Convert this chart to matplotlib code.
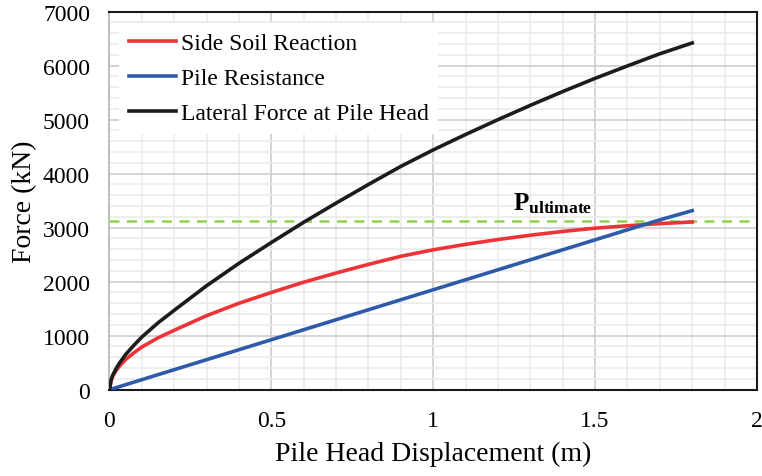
import matplotlib
matplotlib.use("Agg")
import matplotlib.pyplot as plt
from matplotlib.ticker import MultipleLocator

plt.rcParams["font.family"] = ["Liberation Serif", "DejaVu Serif"]
plt.rcParams["mathtext.fontset"] = "custom"
plt.rcParams["mathtext.bf"] = "Liberation Serif:bold"
plt.rcParams["mathtext.rm"] = "Liberation Serif"

# Pile head displacement (m)
displacement = [0, 0.005, 0.01, 0.02, 0.03, 0.05, 0.075, 0.1, 0.15, 0.2, 0.3, 0.4,
                0.5, 0.6, 0.7, 0.8, 0.9, 1.0, 1.1, 1.2, 1.3, 1.4, 1.5, 1.6, 1.7, 1.8]

# Forces (kN)
side_soil = [0, 175, 250, 350, 430, 560, 680, 790, 960, 1100, 1370, 1600,
             1800, 1990, 2160, 2320, 2470, 2590, 2690, 2780, 2860, 2930, 2990, 3035, 3075, 3105]
pile_resistance = [0, 9, 18, 37, 55, 92, 139, 185, 278, 370, 555, 740,
                   925, 1110, 1295, 1480, 1665, 1850, 2035, 2220, 2405, 2590, 2775, 2960, 3145, 3315]
lateral_force = [0, 184, 268, 387, 485, 652, 820, 975, 1238, 1470, 1925, 2340,
                 2725, 3100, 3455, 3800, 4135, 4440, 4725, 5000, 5265, 5520, 5765, 5995, 6220, 6420]

p_ultimate = 3130

x_ticks = [0, 0.5, 1, 1.5, 2]
x_tick_labels = ["0", "0.5", "1", "1.5", "2"]

fig = plt.figure(figsize=(7.62, 4.77), dpi=100)
ax = fig.add_axes([0.1437, 0.181, 0.8497, 0.7925])

ax.plot(displacement, side_soil, color="#EE3338", lw=2.6, label="Side Soil Reaction", zorder=3)
ax.plot(displacement, pile_resistance, color="#2F5AAA", lw=2.6, label="Pile Resistance", zorder=3)
ax.plot(displacement, lateral_force, color="#1C1C1C", lw=2.6, label="Lateral Force at Pile Head", zorder=4)
ax.axhline(p_ultimate, color="#92D050", lw=1.8, ls=(0, (4, 3)), zorder=2)

ax.text(1.245, 3230, r"$\mathbf{P_{ultimate}}$", fontsize=18, ha="left", va="bottom")

ax.set_xlim(0, 2)
ax.set_ylim(0, 7000)
ax.set_xticks(x_ticks, x_tick_labels)
ax.xaxis.set_minor_locator(MultipleLocator(0.1))
ax.yaxis.set_major_locator(MultipleLocator(1000))
ax.yaxis.set_minor_locator(MultipleLocator(200))

ax.grid(which="major", color="#CDCDCD", lw=1.2)
ax.grid(which="minor", color="#EBEBEB", lw=1.2)
ax.set_axisbelow(True)
ax.tick_params(which="both", length=0, labelsize=17)
ax.tick_params(axis="x", pad=15)
ax.tick_params(axis="y", pad=14)

for side in ["top", "right", "bottom"]:
    ax.spines[side].set_color("#1A1A1A")
    ax.spines[side].set_linewidth(1.5)
ax.spines["left"].set_color("#BFBFBF")
ax.spines["left"].set_linewidth(1.5)

ax.set_xlabel("Pile Head Displacement (m)", fontsize=20, labelpad=7)
ax.set_ylabel("Force (kN)", fontsize=20, labelpad=4)

leg = ax.legend(loc="upper left", bbox_to_anchor=(0.015, 0.97), fontsize=17,
                frameon=True, fancybox=False, edgecolor="none", framealpha=1,
                handlelength=2.0, handletextpad=0.2, borderaxespad=0.0,
                labelspacing=0.58)

fig.savefig("out.png", dpi=100)
